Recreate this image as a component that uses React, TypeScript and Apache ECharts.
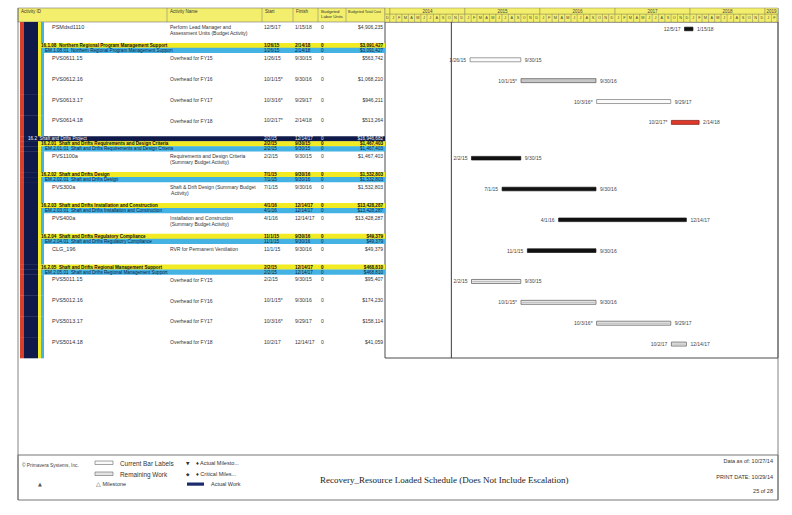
import React, { useEffect, useRef } from "react";
import * as echarts from "echarts";

// ---------- data ----------
const ROW_KIND = ["act","wbs3","wbs4","act","act","act","act","wbs2","wbs3","wbs4","act","wbs3","wbs4","act","wbs3","wbs4","act","wbs3","wbs4","act","wbs3","wbs4","act","act","act","act"];
const ROW_ID = ["PSMdsd1110","16.1.08","EM.1.08.01","PVS0611.15","PVS0612.16","PVS0613.17","PVS0614.18","16.2","16.2.01","EM.2.01.01","PVS1100a","16.2.02","EM.2.02.01","PVS300a","16.2.03","EM.2.03.01","PVS400a","16.2.04","EM.2.04.01","CLG_196","16.2.05","EM.2.05.01","PVS5011.15","PVS5012.16","PVS5013.17","PVS5014.18"];
const ROW_NAME = [
  "Perform Lead Manager and Assessment Units (Budget Activity)",
  "Northern Regional Program Management Support",
  "Northern Regional Program Management Support",
  "Overhead for FY15","Overhead for FY16","Overhead for FY17","Overhead for FY18",
  "Shaft and Drifts Project",
  "Shaft and Drifts Requirements and Design Criteria",
  "Shaft and Drifts Requirements and Design Criteria",
  "Requirements and Design Criteria (Summary Budget Activity)",
  "Shaft and Drifts Design","Shaft and Drifts Design",
  "Shaft & Drift Design (Summary Budget Activity)",
  "Shaft and Drifts Installation and Construction","Shaft and Drifts Installation and Construction",
  "Installation and Construction (Summary Budget Activity)",
  "Shaft and Drifts Regulatory Compliance","Shaft and Drifts Regulatory Compliance",
  "RVR for Permanent Ventilation",
  "Shaft and Drifts Regional Management Support","Shaft and Drifts Regional Management Support",
  "Overhead for FY15","Overhead for FY16","Overhead for FY17","Overhead for FY18"
];
const ROW_START = ["2017-12-05","2015-01-26","2015-01-26","2015-01-26","2015-10-01","2016-10-03","2017-10-02","2015-02-02","2015-02-02","2015-02-02","2015-02-02","2015-07-01","2015-07-01","2015-07-01","2016-04-01","2016-04-01","2016-04-01","2015-11-01","2015-11-01","2015-11-01","2015-02-02","2015-02-02","2015-02-02","2015-10-01","2016-10-03","2017-10-02"];
const ROW_FINISH = ["2018-01-15","2018-02-14","2018-02-14","2015-09-30","2016-09-30","2017-09-29","2018-02-14","2017-12-14","2015-09-30","2015-09-30","2015-09-30","2016-09-30","2016-09-30","2016-09-30","2017-12-14","2017-12-14","2017-12-14","2016-09-30","2016-09-30","2016-09-30","2017-12-14","2017-12-14","2015-09-30","2016-09-30","2017-09-29","2017-12-14"];
const ROW_FLAG = ["","","","","*","*","*","","","","","","","","","","","","","","","","","*","*",""];
const ROW_UNITS = ["0","0","0","0","0","0","0","0","0","0","0","0","0","0","0","0","0","0","0","0","0","0","0","0","0","0"];
const ROW_COST = ["$4,906,235","$3,091,427","$3,091,427","$563,742","$1,068,210","$946,211","$513,264","$16,946,682","$1,467,403","$1,467,403","$1,467,403","$1,532,803","$1,532,803","$1,532,803","$13,428,287","$13,428,287","$13,428,287","$49,379","$49,379","$49,379","$468,810","$468,810","$95,407","$174,230","$158,114","$41,059"];
const BAR_STYLE = ["actual","","","open","grey","open","critical","","","","actual","","","actual","","","actual","","","actual","","","double","double","double","double"];

const X_MIN = "2013-12-08";
const X_MAX = "2019-03-05";
const DATA_DATE = "2014-10-27";
const PRINT_DATE = "10/29/14";
const YEARS = [2013, 2014, 2015, 2016, 2017, 2018, 2019];
const MONTH_LETTERS = ["J","F","M","A","M","J","J","A","S","O","N","D"];
const HEADERS = ["Activity ID","Activity Name","Start","Finish","Budgeted\nLabor Units","Budgeted Total Cost"];
const TITLE = "Recovery_Resource Loaded Schedule (Does Not Include Escalation)";

// ---------- layout / style ----------
const FONT = "Liberation Sans, Arial, sans-serif";
const SYM = "DejaVu Sans, sans-serif";
const SERIF = "Liberation Serif, Times New Roman, serif";
const C = { red: "#d8402c", navy: "#0f1a4a", yellow: "#f2ea22", blue: "#45b2e4", head: "#f3ef6c", line: "#555" };
const KIND_H: Record<string, number> = { act: 21, wbs2: 5, wbs3: 5, wbs4: 5 };

const ts = (s: string) => { const [y, m, d] = s.split("-").map(Number); return new Date(y, m - 1, d).getTime(); };
const fmt = (s: string) => { const [y, m, d] = s.split("-").map(Number); return `${m}/${d}/${String(y).slice(2)}`; };

const ROW_TOP: number[] = [];
let acc = 0;
ROW_KIND.forEach((k) => { ROW_TOP.push(acc); acc += KIND_H[k]; });
const Y_TOTAL = acc;

const months: number[][] = [];
YEARS.forEach((y) => MONTH_LETTERS.forEach((_, m) => {
  const a = new Date(y, m, 1).getTime();
  const b = new Date(y, m + 1, 1).getTime();
  if (b > ts(X_MIN) && a < ts(X_MAX)) months.push([a, b, 0, m]);
}));
const yearData = YEARS.map((y) => [new Date(y, 0, 1).getTime(), new Date(y + 1, 0, 1).getTime(), 0, y]);

const txt = (x: number, y: number, text: string, o: any = {}) => ({
  type: "text", x, y, silent: true,
  style: {
    text, fill: o.fill || "#333", fontSize: o.size || 5, fontFamily: o.font || FONT,
    fontWeight: o.weight || "normal", align: o.align || "left", verticalAlign: o.va || "middle",
    width: o.width, overflow: o.width ? "break" : undefined, lineHeight: o.lh,
  },
});
const rect = (x: number, y: number, w: number, h: number, fill: string, stroke?: string, lw = 0.6) => ({
  type: "rect", silent: true, shape: { x, y, width: w, height: h }, style: { fill, stroke, lineWidth: stroke ? lw : 0 },
});
const line = (x1: number, y1: number, x2: number, y2: number, stroke = C.line, lw = 0.7) => ({
  type: "line", silent: true, shape: { x1, y1, x2, y2 }, style: { stroke, lineWidth: lw },
});

const BAR_LOOK: Record<string, any> = {
  actual: { fill: "#111", stroke: "#111", h: 3.6 },
  open: { fill: "#fbfbfb", stroke: "#777", h: 4 },
  grey: { fill: "#c6c6c6", stroke: "#555", h: 4 },
  critical: { fill: "#e0392b", stroke: "#7a1b14", h: 4 },
  double: { fill: "#ececec", stroke: "#555", h: 4 },
};

function tableRender(params: any, api: any) {
  const i = api.value(2);
  const kind = ROW_KIND[i];
  const top = ROW_TOP[i];
  const y0 = api.coord([0, top])[1];
  const y1 = api.coord([0, top + KIND_H[kind]])[1];
  const h = y1 - y0 + 0.3;
  const ch: any[] = [];
  ch.push(rect(20, y0, 4, h, C.red));
  ch.push(rect(24, y0, 14, h, C.navy));
  if (kind === "wbs2") ch.push(rect(24, y0, 361, h, C.navy));
  else if (kind === "wbs3") ch.push(rect(38, y0, 347, h, C.yellow));
  else if (kind === "wbs4") { ch.push(rect(38, y0, 3, h, C.yellow)); ch.push(rect(41, y0, 344, h, C.blue)); }
  else { ch.push(rect(38, y0, 3, h, C.yellow)); ch.push(rect(41, y0, 3, h, C.blue)); }
  if (kind === "act") {
    const ym = y0 + 5;
    ch.push(txt(52, ym, ROW_ID[i], { size: 5.5, fill: "#333" }));
    ch.push(txt(170, y0 + 2.4, ROW_NAME[i], { size: 5, width: 86, lh: 5.6, va: "top", fill: "#333" }));
    ch.push(txt(264, ym, fmt(ROW_START[i]) + ROW_FLAG[i], { size: 5 }));
    ch.push(txt(295, ym, fmt(ROW_FINISH[i]), { size: 5 }));
    ch.push(txt(321, ym, ROW_UNITS[i], { size: 5 }));
    ch.push(txt(383, ym, ROW_COST[i], { size: 5, align: "right" }));
  } else {
    const ym = (y0 + y1) / 2;
    const fill = kind === "wbs2" ? "#f4f4f4" : kind === "wbs3" ? "#111" : "#0d1d3a";
    const x = kind === "wbs2" ? 28 : kind === "wbs3" ? 41 : 45;
    const o = { size: 4.6, fill, weight: kind === "wbs3" ? "bold" : "normal" };
    ch.push(txt(x, ym, `${ROW_ID[i]}  ${ROW_NAME[i]}`, o));
    ch.push(txt(264, ym, fmt(ROW_START[i]), o));
    ch.push(txt(295, ym, fmt(ROW_FINISH[i]), o));
    ch.push(txt(321, ym, ROW_UNITS[i], o));
    ch.push(txt(383, ym, ROW_COST[i], { ...o, align: "right" }));
  }
  return { type: "group", children: ch };
}

function barRender(params: any, api: any) {
  const i = api.value(2);
  const look = BAR_LOOK[BAR_STYLE[i]];
  const yv = ROW_TOP[i] + 7;
  const p0 = api.coord([api.value(0), yv]);
  const p1 = api.coord([api.value(1), yv]);
  const ch: any[] = [
    rect(p0[0], p0[1] - look.h / 2, p1[0] - p0[0], look.h, look.fill, look.stroke, 0.7),
    txt(p0[0] - 4, p0[1], fmt(ROW_START[i]) + ROW_FLAG[i], { size: 5, align: "right", fill: "#444" }),
    txt(p1[0] + 4, p0[1], fmt(ROW_FINISH[i]), { size: 5, fill: "#444" }),
  ];
  if (BAR_STYLE[i] === "double") ch.push(line(p0[0] + 1, p0[1], p1[0] - 1, p0[1], "#888", 0.5));
  return { type: "group", children: ch };
}

function clampX(api: any, t: number) {
  const a = api.coord([ts(X_MIN), 0])[0];
  const b = api.coord([ts(X_MAX), 0])[0];
  return Math.min(b, Math.max(a, api.coord([t, 0])[0]));
}

function monthRender(params: any, api: any) {
  const x0 = clampX(api, api.value(0));
  const x1 = clampX(api, api.value(1));
  const gy = api.coord([api.value(0), 0])[1];
  const ch: any[] = [rect(x0, gy - 8, x1 - x0, 8, C.head, "#8c8a55", 0.4)];
  if (x1 - x0 > 3) ch.push(txt((x0 + x1) / 2, gy - 4, MONTH_LETTERS[api.value(3)], { size: 3.8, align: "center", fill: "#444" }));
  return { type: "group", children: ch };
}

function yearRender(params: any, api: any) {
  const x0 = clampX(api, api.value(0));
  const x1 = clampX(api, api.value(1));
  const gy = api.coord([api.value(0), 0])[1];
  if (x1 - x0 < 1) return { type: "group", children: [] };
  const ch: any[] = [rect(x0, gy - 14, x1 - x0, 6, C.head, "#8c8a55", 0.5)];
  if (x1 - x0 > 12) ch.push(txt((x0 + x1) / 2, gy - 11, String(api.value(3)), { size: 4.5, align: "center", fill: "#444" }));
  return { type: "group", children: ch };
}

function dataDateRender(params: any, api: any) {
  const a = api.coord([api.value(0), 0]);
  const b = api.coord([api.value(0), Y_TOTAL]);
  return line(a[0], a[1], b[0], b[1], "#3a3a3a", 1);
}

// ---------- static graphics (headers, frame, footer) ----------
const COL_X = [21, 170, 265, 296, 321, 348];
const DIV_X = [167, 262, 293, 318, 346];
const HEAD_SIZE = [4.5, 4.5, 4.5, 4.5, 4.3, 3.7];
const graphics: any[] = [
  rect(18, 8, 367, 14, C.head, "#777", 0.6),
  ...DIV_X.map((x) => line(x, 8, x, 22, "#777", 0.5)),
  ...HEADERS.map((h, k) => txt(COL_X[k], 9, h, { size: HEAD_SIZE[k], va: "top", lh: 5, fill: "#333" })),
  line(18, 8, 18, 500, "#666", 0.8),
  line(778, 8, 778, 500, "#666", 0.8),
  rect(18, 455, 760, 45, "none", "#666", 0.9),
  txt(22, 465, "© Primavera Systems, Inc.", { size: 4.8, fill: "#444" }),
  rect(95, 461, 18, 3.5, "#fafafa", "#666", 0.6),
  txt(120, 463, "Current Bar Labels", { size: 6.4, fill: "#333" }),
  txt(186, 463, "▼", { size: 4.5, fill: "#333", font: SYM }),
  txt(196, 463, "♦ Actual Milesto...", { size: 5.5, fill: "#333" }),
  rect(95, 472, 18, 3.5, "#e4e4e4", "#666", 0.6),
  txt(120, 474, "Remaining Work", { size: 6.4, fill: "#333" }),
  txt(186, 474, "◆", { size: 4.5, fill: "#333", font: SYM }),
  txt(196, 474, "♦ Critical Miles...", { size: 5.5, fill: "#333" }),
  txt(38, 484, "▲", { size: 5, fill: "#555", font: SYM }),
  txt(96, 484, "△ Milestone", { size: 5.5, fill: "#333" }),
  rect(187, 482.5, 17, 3.2, "#1c2a6e"),
  txt(211, 484, "Actual Work", { size: 5.5, fill: "#333" }),
  txt(320, 480, TITLE, { size: 9, font: SERIF, fill: "#222" }),
  txt(773, 461, `Data as of: ${fmt(DATA_DATE)}`, { size: 5.5, align: "right", fill: "#333" }),
  txt(773, 477, `PRINT DATE: ${PRINT_DATE}`, { size: 5.5, align: "right", fill: "#333" }),
  txt(773, 491, "25 of 28", { size: 5.5, align: "right", fill: "#333" }),
];

const option: any = {
  animation: false,
  backgroundColor: "#ffffff",
  grid: [
    { left: 18, top: 22, width: 367, height: 336, show: false },
    { left: 385, top: 22, width: 393, height: 336, show: true, borderColor: "#4a4a4a", borderWidth: 1, backgroundColor: "transparent" },
  ],
  xAxis: [
    { gridIndex: 0, type: "value", min: 0, max: 1, show: false },
    { gridIndex: 1, type: "time", min: ts(X_MIN), max: ts(X_MAX), show: false },
  ],
  yAxis: [
    { gridIndex: 0, type: "value", inverse: true, min: 0, max: Y_TOTAL, show: false },
    { gridIndex: 1, type: "value", inverse: true, min: 0, max: Y_TOTAL, show: false },
  ],
  series: [
    {
      type: "custom", xAxisIndex: 0, yAxisIndex: 0, silent: true,
      data: ROW_KIND.map((_, i) => [0.5, ROW_TOP[i], i]),
      encode: { x: 0, y: 1 }, renderItem: tableRender,
    },
    {
      type: "custom", xAxisIndex: 1, yAxisIndex: 1, silent: true, clip: false,
      data: months, encode: { x: [0, 1], y: 2 }, renderItem: monthRender,
    },
    {
      type: "custom", xAxisIndex: 1, yAxisIndex: 1, silent: true, clip: false,
      data: yearData, encode: { x: [0, 1], y: 2 }, renderItem: yearRender,
    },
    {
      type: "custom", xAxisIndex: 1, yAxisIndex: 1, silent: true,
      data: [[ts(DATA_DATE), 0]], encode: { x: 0, y: 1 }, renderItem: dataDateRender,
    },
    {
      type: "custom", xAxisIndex: 1, yAxisIndex: 1, silent: true, clip: false,
      data: ROW_KIND.map((k, i) => (BAR_STYLE[i] ? [ts(ROW_START[i]), ts(ROW_FINISH[i]), i] : null)).filter(Boolean),
      encode: { x: [0, 1], y: 2 }, renderItem: barRender,
    },
  ],
  graphic: graphics,
};

export default function App() {
  const ref = useRef<HTMLDivElement>(null);
  useEffect(() => {
    const chart = echarts.init(ref.current!, null, { renderer: "svg", width: 792, height: 515 });
    chart.setOption(option);
    return () => chart.dispose();
  }, []);
  return <div ref={ref} style={{ position: "absolute", left: 0, top: 0, width: 792, height: 515, background: "#fff" }} />;
}
